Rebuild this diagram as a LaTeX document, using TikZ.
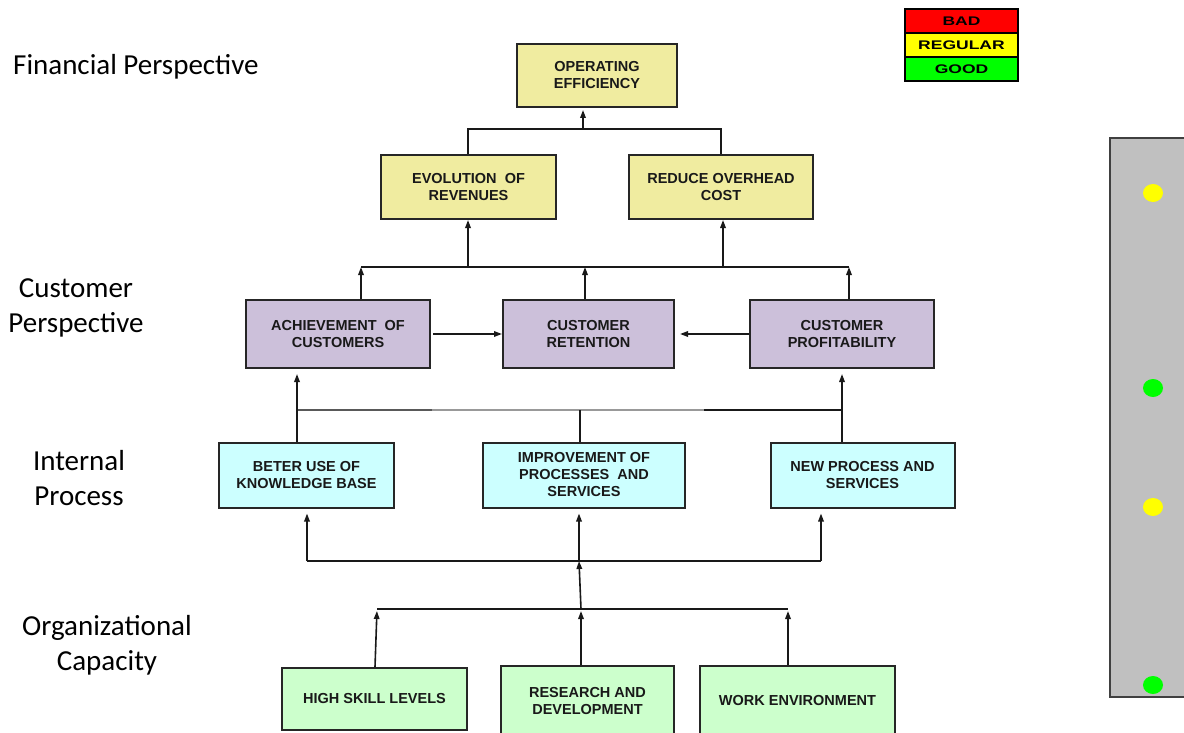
\documentclass[tikz,border=0pt]{standalone}
\usepackage{fontspec}
\usepackage{graphicx}
\usetikzlibrary{arrows.meta}
\setmainfont{Liberation Sans}
\newfontfamily\labelfont{Carlito}

\definecolor{finfill}{RGB}{240,236,160}
\definecolor{custfill}{RGB}{204,192,218}
\definecolor{procfill}{RGB}{204,255,255}
\definecolor{orgfill}{RGB}{204,255,204}
\definecolor{panelfill}{RGB}{192,192,192}
\definecolor{sigred}{RGB}{255,0,0}
\definecolor{sigyellow}{RGB}{255,255,0}
\definecolor{siggreen}{RGB}{0,255,0}

\tikzset{
  goal/.style={draw=black!85, line width=2pt, rectangle, align=center,
    inner sep=0pt, text=black!90,
    font=\fontsize{14.5}{17}\selectfont\bfseries},
  fin/.style={goal, fill=finfill},
  cust/.style={goal, fill=custfill},
  proc/.style={goal, fill=procfill},
  org/.style={goal, fill=orgfill},
  link/.style={draw=black!90, line width=1.6pt},
  arr/.style={link, -{Triangle[length=8pt,width=5.5pt]}},
  persp/.style={align=center, font=\labelfont\fontsize{29}{34.5}\selectfont, inner sep=0pt},
  sigrow/.style={draw=black, line width=1.4pt, rectangle, minimum width=113pt,
    minimum height=24pt, inner sep=0pt, font=\fontsize{12.5}{13}\selectfont\bfseries},
}

\begin{document}
\begin{tikzpicture}[x=1pt,y=-1pt]
\useasboundingbox (0,0) rectangle (1184,733);

% perspective labels (base anchor sits on the last line)
\node[persp, anchor=base west] (lfin) at (13,75) {Financial Perspective};
\node[persp, anchor=base] (lcust) at (76,332) {Customer\\Perspective};
\node[persp, anchor=base] (lproc) at (79,505) {Internal\\Process};
\node[persp, anchor=base] (lorg) at (107,670) {Organizational\\Capacity};

% signal legend
\node[sigrow, fill=sigred] (bad) at (961.5,21) {\scalebox{1.4}[1]{BAD}};
\node[sigrow, fill=sigyellow] (regular) at (961.5,45) {\scalebox{1.4}[1]{REGULAR}};
\node[sigrow, fill=siggreen] (good) at (961.5,69) {\scalebox{1.4}[1]{GOOD}};

% status panel with lamps
\draw[fill=panelfill, draw=black!75, line width=2pt] (1110,138) rectangle (1192,697);
\fill[sigyellow] (1153,193) ellipse (10 and 9);
\fill[siggreen]  (1153,388) ellipse (10 and 9);
\fill[sigyellow] (1153,507) ellipse (10 and 9);
\fill[siggreen]  (1153,685) ellipse (10 and 9);

% financial perspective
\node[fin, minimum width=160pt, minimum height=63pt] (oe) at (597,75.5) {OPERATING\\EFFICIENCY};
\node[fin, minimum width=175pt, minimum height=64pt] (evol) at (468.5,187) {EVOLUTION \ OF\\REVENUES};
\node[fin, minimum width=184pt, minimum height=64pt] (reduce) at (721,187) {REDUCE OVERHEAD\\COST};

% customer perspective
\node[cust, minimum width=184pt, minimum height=68pt] (ach) at (338,334) {ACHIEVEMENT \ OF\\CUSTOMERS};
\node[cust, minimum width=171pt, minimum height=68pt] (ret) at (588.5,334) {CUSTOMER\\RETENTION};
\node[cust, minimum width=184pt, minimum height=68pt] (prof) at (842,334) {CUSTOMER\\PROFITABILITY};

% internal process
\node[proc, minimum width=175pt, minimum height=65pt] (beter) at (306.5,475) {BETER USE OF\\KNOWLEDGE BASE};
\node[proc, minimum width=202pt, minimum height=65pt] (impr) at (584,475) {IMPROVEMENT OF\\PROCESSES \ AND\\SERVICES};
\node[proc, minimum width=184pt, minimum height=65pt] (new) at (862.5,475) {NEW PROCESS AND\\SERVICES};

% organizational capacity
\node[org, minimum width=185pt, minimum height=62pt] (high) at (374.5,699) {HIGH SKILL LEVELS};
\node[org, minimum width=173pt, minimum height=70pt] (res) at (587.5,701) {RESEARCH AND\\DEVELOPMENT};
\node[org, minimum width=195pt, minimum height=70pt] (work) at (797.5,701) {WORK ENVIRONMENT};

% junction points
\coordinate (b1a) at (468,129);
\coordinate (b1m) at (583,129);
\coordinate (b1b) at (721,129);
\coordinate (b2a) at (361,267);
\coordinate (b2e) at (468,267);
\coordinate (b2m) at (585,267);
\coordinate (b2r) at (723,267);
\coordinate (b2b) at (849,267);
\coordinate (b3a) at (297,410);
\coordinate (b3g) at (432,410);
\coordinate (b3h) at (704,410);
\coordinate (b3m) at (580,410);
\coordinate (b3b) at (842,410);
\coordinate (b4a) at (307,561);
\coordinate (b4m) at (579,561);
\coordinate (b4b) at (821,561);
\coordinate (b5a) at (377,609);
\coordinate (b5m) at (581,609);
\coordinate (b5b) at (788,609);

% financial links
\draw[link] (evol.north -| b1a) -- (b1a) -- (b1b) -- (reduce.north -| b1b);
\draw[arr, shorten >=2pt] (b1m) -- (oe.south -| b1m);

% customer to financial
\draw[link] (b2a) -- (b2b);
\draw[arr] (ach.north -| b2a) -- (b2a);
\draw[arr] (ret.north -| b2m) -- (b2m);
\draw[arr] (prof.north -| b2b) -- (b2b);
\draw[arr] (b2e) -- (evol.south -| b2e);
\draw[arr] (b2r) -- (reduce.south -| b2r);
\draw[arr, shorten <=2pt] (ach.east) -- (ret.west);
\draw[arr, shorten >=5pt] (prof.west) -- (ret.east);

% internal process to customer
\draw[link, draw=black!65] (b3a) -- (b3g);
\draw[link, draw=black!40] (b3g) -- (b3h);
\draw[link] (b3h) -- (b3b);
\draw[link] (beter.north -| b3a) -- (b3a);
\draw[link] (impr.north -| b3m) -- (b3m);
\draw[link] (new.north -| b3b) -- (b3b);
\draw[arr, shorten >=5pt] (b3a) -- (ach.south -| b3a);
\draw[arr, shorten >=5pt] (b3b) -- (prof.south -| b3b);

% organizational capacity to internal process
\draw[link] (b4a) -- (b4b);
\draw[arr, shorten >=5pt] (b4a) -- (beter.south -| b4a);
\draw[arr, shorten >=5pt] (b4m) -- (impr.south -| b4m);
\draw[arr, shorten >=5pt] (b4b) -- (new.south -| b4b);
\draw[arr] (b5m) -- (b4m);
\draw[link] (b5a) -- (b5b);
\draw[arr, shorten >=2pt] (high.north -| 375,0) -- (b5a);
\draw[arr, shorten >=2pt] (res.north -| b5m) -- (b5m);
\draw[arr, shorten >=2pt] (work.north -| b5b) -- (b5b);
\end{tikzpicture}
\end{document}
